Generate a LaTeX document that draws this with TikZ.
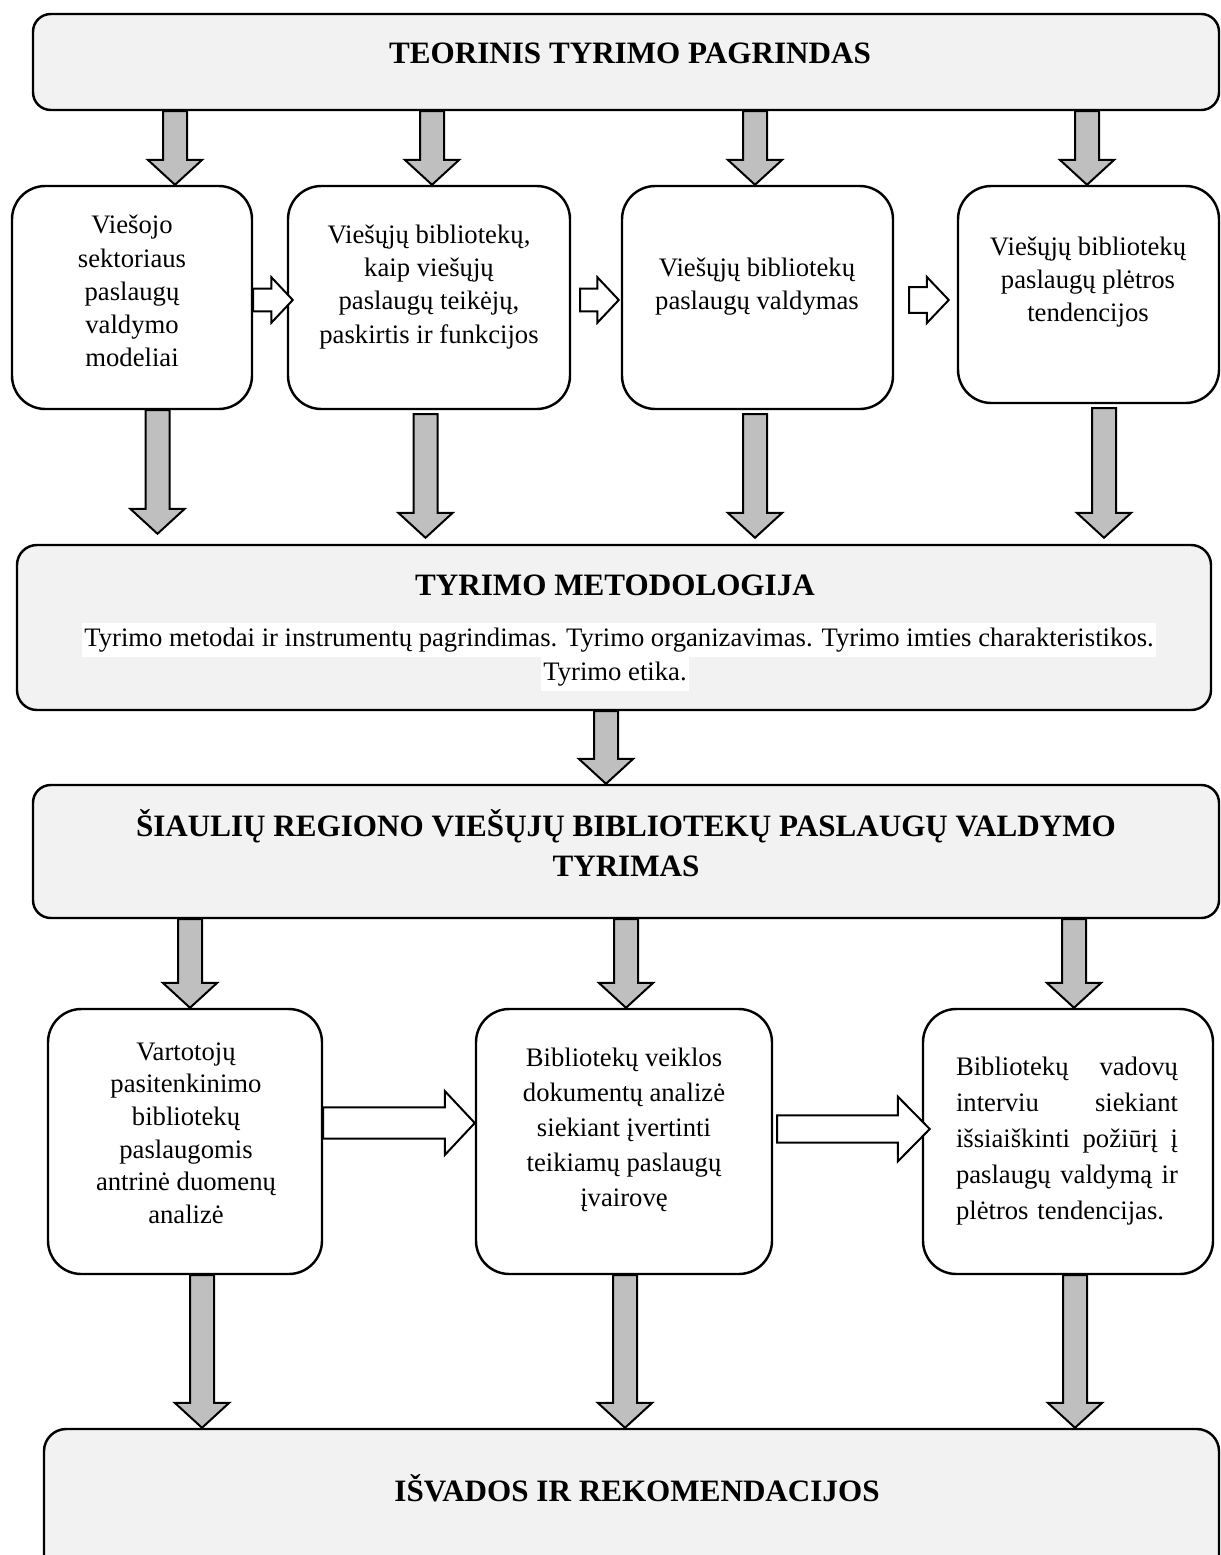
\documentclass[tikz,border=0pt]{standalone}
\usepackage{fontspec}
\setmainfont{Liberation Serif}
\usetikzlibrary{positioning}
\usetikzlibrary{calc}

\begin{document}
\begin{tikzpicture}[x=0.45pt, y=-0.45pt,
                    bigbox/.style={rectangle, draw, fill=gray!10, line width=1.1pt, rounded corners=8pt, inner sep=0pt},
                    smallbox/.style={rectangle, draw, fill=white, line width=1.1pt, rounded corners=15pt, inner sep=0pt},
                    boxtext/.style={align=center, inner sep=0pt, font=\fontsize{12}{14.9}\selectfont},
                    headtext/.style={align=center, inner sep=0pt, font=\fontsize{14}{18}\selectfont\bfseries},
                    marktext/.style={fill=white, inner xsep=1pt, inner ysep=0pt, text height=10.6pt, text depth=4.7pt, font=\fontsize{12}{14.9}\selectfont},
                    downblock/.style={draw, fill=gray!50, line width=0.9pt,
                        to path={let \p1=(\tikztostart), \p2=(\tikztotarget) in
                                 (\x1-5.4pt,\y1) -- (\x1-5.4pt,\y2+11.2pt) -- (\x1-12.2pt,\y2+11.2pt) -- (\x1,\y2)
                                 -- (\x1+12.2pt,\y2+11.2pt) -- (\x1+5.4pt,\y2+11.2pt) -- (\x1+5.4pt,\y1) -- cycle}},
                    rightblock/.style n args={3}{draw, fill=white, line width=0.9pt,
                        to path={let \p1=(\tikztostart), \p2=(\tikztotarget) in
                                 (\x1,\y1+#1) -- (\x2-#3,\y1+#1) -- (\x2-#3,\y1+#2) -- (\x2,\y1)
                                 -- (\x2-#3,\y1-#2) -- (\x2-#3,\y1-#1) -- (\x1,\y1-#1) -- cycle}},
                ]
                \useasboundingbox (0,0) rectangle (1221,1555);
                \clip (0,0) rectangle (1221,1555);

                % Boxes
                \node[bigbox, minimum width=533.7pt, minimum height=43.2pt]               (teorinis) at (626,62)      {};
                \node[smallbox, minimum width=108pt, minimum height=100.35pt]             (r1a)      at (132,297.5)   {};
                \node[smallbox, minimum width=126.9pt, minimum height=100.35pt]           (r1b)      at (429,297.5)   {};
                \node[smallbox, minimum width=121.95pt, minimum height=100.35pt]          (r1c)      at (757.5,297.5) {};
                \node[smallbox, minimum width=117.45pt, minimum height=97.65pt]           (r1d)      at (1088.5,294.5) {};
                \node[bigbox, rounded corners=9pt, minimum width=537.3pt, minimum height=74.25pt]  (metod)    at (614,627.5)   {};
                \node[bigbox, minimum width=533.7pt, minimum height=59.85pt]              (tyrimas)  at (626,851.5)   {};
                \node[smallbox, minimum width=123.3pt, minimum height=119.25pt]           (r2a)      at (185,1141.5)  {};
                \node[smallbox, minimum width=133.2pt, minimum height=119.25pt]           (r2b)      at (624,1141.5)  {};
                \node[smallbox, minimum width=130.5pt, minimum height=119.25pt]           (r2c)      at (1068,1141.5) {};
                \node[bigbox, rounded corners=10pt, minimum width=528.75pt, minimum height=76.95pt] (isvados) at (631.5,1514.5) {};

                % Texts
                \node[headtext] (teorinis_t) at (630,53)   {TEORINIS TYRIMO PAGRINDAS};
                \node[boxtext]  (r1a_t)      at (132,291)  {Viešojo\\sektoriaus\\paslaugų\\valdymo\\modeliai};
                \node[boxtext]  (r1b_t)      at (429,287)  {Viešųjų bibliotekų,\\kaip viešųjų\\paslaugų teikėjų,\\paskirtis ir funkcijos};
                \node[boxtext]  (r1c_t)      at (757,287)  {Viešųjų bibliotekų\\paslaugų valdymas};
                \node[boxtext]  (r1d_t)      at (1088,282) {Viešųjų bibliotekų\\paslaugų plėtros\\tendencijos};
                \node[headtext] (metod_t)    at (615,585)  {TYRIMO METODOLOGIJA};
                \node[marktext] (metod_b1)   at (619,640)  {Tyrimo metodai ir instrumentų pagrindimas. Tyrimo organizavimas. Tyrimo imties charakteristikos.};
                \node[marktext] (metod_b2)   at (615,673.5) {Tyrimo etika.};
                \node[headtext, font=\fontsize{14}{18}\selectfont\bfseries] (tyrimas_t) at (626,843)
                      {ŠIAULIŲ REGIONO VIEŠŲJŲ BIBLIOTEKŲ PASLAUGŲ VALDYMO\\TYRIMAS};
                \node[boxtext, font=\fontsize{12}{14.7}\selectfont]  (r2a_t) at (186,1133) {Vartotojų\\pasitenkinimo\\bibliotekų\\paslaugomis\\antrinė duomenų\\analizė};
                \node[boxtext, font=\fontsize{12}{15.75}\selectfont] (r2b_t) at (624,1130) {Bibliotekų veiklos\\dokumentų analizė\\siekiant įvertinti\\teikiamų paslaugų\\įvairovę};
                \node[boxtext, align=left, text width=99.9pt, font=\fontsize{12}{16.2}\selectfont] (r2c_t) at (1067,1141)
                      {Bibliotekų\hfill vadovų\\interviu\hfill siekiant\\išsiaiškinti\hfill požiūrį\hfill į\\paslaugų\hfill valdymą\hfill ir\\plėtros tendencijas.};
                \node[headtext] (isvados_t)  at (637,1488) {IŠVADOS IR REKOMENDACIJOS};

                % Arrow columns
                \coordinate (c1) at (175,0);   \coordinate (c2) at (432,0);   \coordinate (c3) at (755,0);   \coordinate (c4) at (1087,0);
                \coordinate (c5) at (157.5,0); \coordinate (c6) at (425.5,0); \coordinate (c7) at (1104,0);
                \coordinate (c8) at (606,0);
                \coordinate (c9) at (190,0);   \coordinate (c10) at (626,0);  \coordinate (c11) at (1074,0);
                \coordinate (c12) at (202,0);  \coordinate (c13) at (625,0);  \coordinate (c14) at (1075,0);
                \coordinate (h1) at (0,300);   \coordinate (h2) at (0,1123);  \coordinate (h3) at (0,1129);

                %Lines
                \draw[downblock] (teorinis.south -| c1) to (r1a.north -| c1);
                \draw[downblock] (teorinis.south -| c2) to (r1b.north -| c2);
                \draw[downblock] (teorinis.south -| c3) to (r1c.north -| c3);
                \draw[downblock] (teorinis.south -| c4) to (r1d.north -| c4);
                \draw[downblock] (r1a.south -| c5) to ([yshift=4.5pt]metod.north -| c5);
                \draw[downblock] ([yshift=-1.8pt]r1b.south -| c6) to ([yshift=2.7pt]metod.north -| c6);
                \draw[downblock] ([yshift=-1.8pt]r1c.south -| c3) to ([yshift=2.7pt]metod.north -| c3);
                \draw[downblock] ([yshift=-1.8pt]r1d.south -| c7) to ([yshift=2.7pt]metod.north -| c7);
                \draw[downblock] (metod.south -| c8) to (tyrimas.north -| c8);
                \draw[downblock] (tyrimas.south -| c9) to (r2a.north -| c9);
                \draw[downblock] (tyrimas.south -| c10) to (r2b.north -| c10);
                \draw[downblock] (tyrimas.south -| c11) to (r2c.north -| c11);
                \draw[downblock] (r2a.south -| c12) to (isvados.north -| c12);
                \draw[downblock] (r2b.south -| c13) to (isvados.north -| c13);
                \draw[downblock] (r2c.south -| c14) to (isvados.north -| c14);
                \draw[rightblock={5.1pt}{10.2pt}{9.6pt}] (r1a.east |- h1) to ([xshift=2.7pt]r1b.west |- h1);
                \draw[rightblock={5.1pt}{10.2pt}{9.6pt}] ([xshift=4pt]r1b.east |- h1) to ([xshift=-0.9pt]r1c.west |- h1);
                \draw[rightblock={5.8pt}{10.4pt}{9.9pt}] ([xshift=6.7pt]r1c.east |- h1) to ([xshift=-3.6pt]r1d.west |- h1);
                \draw[rightblock={7pt}{14.4pt}{13.5pt}] (r2a.east |- h2) to (r2b.west |- h2);
                \draw[rightblock={6.1pt}{14.6pt}{14.4pt}] ([xshift=1.8pt]r2b.east |- h3) to ([xshift=3.6pt]r2c.west |- h3);
\end{tikzpicture}
\end{document}
